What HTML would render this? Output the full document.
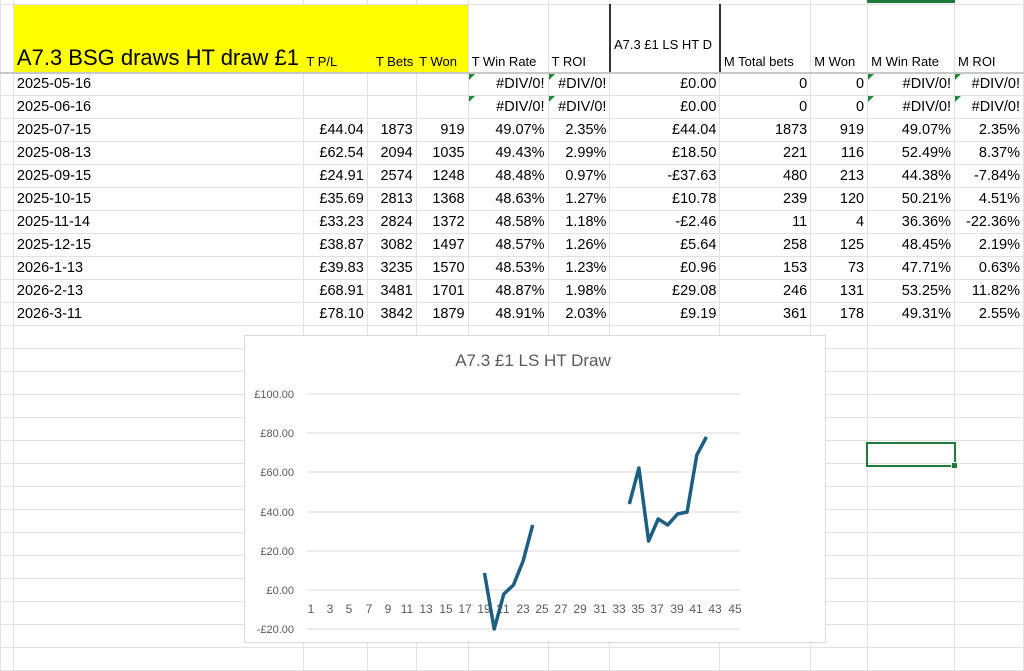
<!DOCTYPE html>
<html><head><meta charset="utf-8"><style>
body{margin:0;width:1024px;height:646px;overflow:hidden;background:#fff;font-family:"Liberation Sans",sans-serif;position:relative}
table{position:absolute;left:0;top:-19px;border-collapse:collapse;table-layout:fixed}
td{border:1px solid #e1e1e1;height:23px;padding:0 3px;font-size:14.5px;white-space:nowrap;overflow:hidden;text-align:right;color:#000;position:relative;box-sizing:border-box}
tr.h td{height:68px;vertical-align:bottom;font-size:13px;text-align:left;padding-bottom:3px;border-bottom:2px solid #c8c8c8}
td.l{text-align:left}
.g:before{content:"";position:absolute;left:0;top:0;border-top:6px solid #1f8a3a;border-right:6px solid transparent}
#chart{position:absolute;left:244px;top:335px;width:580px;height:306px;background:#fff;border:1px solid #d9d9d9}
</style></head><body>
<table>
<colgroup><col style="width:13px"><col style="width:290px"><col style="width:64px"><col style="width:49px"><col style="width:52px"><col style="width:80px"><col style="width:62px"><col style="width:110px"><col style="width:91px"><col style="width:57px"><col style="width:87px"><col style="width:69px"></colgroup>
<tr><td></td><td></td><td></td><td></td><td></td><td></td><td></td><td></td><td></td><td></td><td></td><td></td></tr>
<tr class="h"><td></td><td style="background:#ff0;font-size:22px;padding-bottom:1px;border-right:none">A7.3 BSG draws HT draw £1</td><td style="background:#ff0;border-left:none;border-right:none">T P/L</td><td style="background:#ff0;text-align:right;border-left:none;border-right:none">T Bets</td><td style="background:#ff0;border-left:none">T Won</td><td>T Win Rate</td><td>T ROI</td><td style="vertical-align:top;padding-top:32px;border-left:2px solid #333;border-right:2px solid #333">A7.3 £1 LS HT D</td><td>M Total bets</td><td>M Won</td><td>M Win Rate</td><td>M ROI</td></tr>
<tr><td></td><td class="l">2025-05-16</td><td></td><td></td><td></td><td class="g">#DIV/0!</td><td class="g">#DIV/0!</td><td>£0.00</td><td>0</td><td>0</td><td class="g">#DIV/0!</td><td class="g">#DIV/0!</td></tr>
<tr><td></td><td class="l">2025-06-16</td><td></td><td></td><td></td><td class="g">#DIV/0!</td><td class="g">#DIV/0!</td><td>£0.00</td><td>0</td><td>0</td><td class="g">#DIV/0!</td><td class="g">#DIV/0!</td></tr>
<tr><td></td><td class="l">2025-07-15</td><td>£44.04</td><td>1873</td><td>919</td><td>49.07%</td><td>2.35%</td><td>£44.04</td><td>1873</td><td>919</td><td>49.07%</td><td>2.35%</td></tr>
<tr><td></td><td class="l">2025-08-13</td><td>£62.54</td><td>2094</td><td>1035</td><td>49.43%</td><td>2.99%</td><td>£18.50</td><td>221</td><td>116</td><td>52.49%</td><td>8.37%</td></tr>
<tr><td></td><td class="l">2025-09-15</td><td>£24.91</td><td>2574</td><td>1248</td><td>48.48%</td><td>0.97%</td><td>-£37.63</td><td>480</td><td>213</td><td>44.38%</td><td>-7.84%</td></tr>
<tr><td></td><td class="l">2025-10-15</td><td>£35.69</td><td>2813</td><td>1368</td><td>48.63%</td><td>1.27%</td><td>£10.78</td><td>239</td><td>120</td><td>50.21%</td><td>4.51%</td></tr>
<tr><td></td><td class="l">2025-11-14</td><td>£33.23</td><td>2824</td><td>1372</td><td>48.58%</td><td>1.18%</td><td>-£2.46</td><td>11</td><td>4</td><td>36.36%</td><td>-22.36%</td></tr>
<tr><td></td><td class="l">2025-12-15</td><td>£38.87</td><td>3082</td><td>1497</td><td>48.57%</td><td>1.26%</td><td>£5.64</td><td>258</td><td>125</td><td>48.45%</td><td>2.19%</td></tr>
<tr><td></td><td class="l">2026-1-13</td><td>£39.83</td><td>3235</td><td>1570</td><td>48.53%</td><td>1.23%</td><td>£0.96</td><td>153</td><td>73</td><td>47.71%</td><td>0.63%</td></tr>
<tr><td></td><td class="l">2026-2-13</td><td>£68.91</td><td>3481</td><td>1701</td><td>48.87%</td><td>1.98%</td><td>£29.08</td><td>246</td><td>131</td><td>53.25%</td><td>11.82%</td></tr>
<tr><td></td><td class="l">2026-3-11</td><td>£78.10</td><td>3842</td><td>1879</td><td>48.91%</td><td>2.03%</td><td>£9.19</td><td>361</td><td>178</td><td>49.31%</td><td>2.55%</td></tr>
<tr><td></td><td></td><td></td><td></td><td></td><td></td><td></td><td></td><td></td><td></td><td></td><td></td></tr>
<tr><td></td><td></td><td></td><td></td><td></td><td></td><td></td><td></td><td></td><td></td><td></td><td></td></tr>
<tr><td></td><td></td><td></td><td></td><td></td><td></td><td></td><td></td><td></td><td></td><td></td><td></td></tr>
<tr><td></td><td></td><td></td><td></td><td></td><td></td><td></td><td></td><td></td><td></td><td></td><td></td></tr>
<tr><td></td><td></td><td></td><td></td><td></td><td></td><td></td><td></td><td></td><td></td><td></td><td></td></tr>
<tr><td></td><td></td><td></td><td></td><td></td><td></td><td></td><td></td><td></td><td></td><td></td><td></td></tr>
<tr><td></td><td></td><td></td><td></td><td></td><td></td><td></td><td></td><td></td><td></td><td></td><td></td></tr>
<tr><td></td><td></td><td></td><td></td><td></td><td></td><td></td><td></td><td></td><td></td><td></td><td></td></tr>
<tr><td></td><td></td><td></td><td></td><td></td><td></td><td></td><td></td><td></td><td></td><td></td><td></td></tr>
<tr><td></td><td></td><td></td><td></td><td></td><td></td><td></td><td></td><td></td><td></td><td></td><td></td></tr>
<tr><td></td><td></td><td></td><td></td><td></td><td></td><td></td><td></td><td></td><td></td><td></td><td></td></tr>
<tr><td></td><td></td><td></td><td></td><td></td><td></td><td></td><td></td><td></td><td></td><td></td><td></td></tr>
<tr><td></td><td></td><td></td><td></td><td></td><td></td><td></td><td></td><td></td><td></td><td></td><td></td></tr>
<tr><td></td><td></td><td></td><td></td><td></td><td></td><td></td><td></td><td></td><td></td><td></td><td></td></tr>
<tr><td></td><td></td><td></td><td></td><td></td><td></td><td></td><td></td><td></td><td></td><td></td><td></td></tr>
</table>
<div style="position:absolute;left:866px;top:442px;width:86px;height:21px;border:2px solid #1f7a3a"></div>
<div style="position:absolute;left:951px;top:462px;width:5px;height:5px;background:#1f7a3a;border:1px solid #fff"></div>
<div style="position:absolute;left:867px;top:0;width:88px;height:3px;background:#1f7a3a"></div>
<div id="chart"></div>
<svg style="position:absolute;left:0;top:0" width="1024" height="646" font-family="Liberation Sans, sans-serif">
<text x="533" y="366" font-size="17" fill="#595959" text-anchor="middle">A7.3 £1 LS HT Draw</text>
<g stroke="#d9d9d9" stroke-width="1">
<line x1="307" x2="740" y1="394" y2="394"/><line x1="307" x2="740" y1="433" y2="433"/><line x1="307" x2="740" y1="472" y2="472"/><line x1="307" x2="740" y1="512" y2="512"/><line x1="307" x2="740" y1="551" y2="551"/><line x1="307" x2="740" y1="590" y2="590"/><line x1="307" x2="740" y1="629" y2="629"/>
</g>
<g font-size="11" fill="#595959" text-anchor="end">
<text x="294" y="398">£100.00</text><text x="294" y="437">£80.00</text><text x="294" y="476">£60.00</text><text x="294" y="516">£40.00</text><text x="294" y="555">£20.00</text><text x="294" y="594">£0.00</text><text x="294" y="633">-£20.00</text>
</g>
<g font-size="12" fill="#595959" text-anchor="middle">
<text x="311" y="613">1</text><text x="330" y="613">3</text><text x="349" y="613">5</text><text x="369" y="613">7</text><text x="388" y="613">9</text><text x="407" y="613">11</text><text x="426" y="613">13</text><text x="446" y="613">15</text><text x="465" y="613">17</text><text x="484" y="613">19</text><text x="503" y="613">21</text><text x="523" y="613">23</text><text x="542" y="613">25</text><text x="561" y="613">27</text><text x="580" y="613">29</text><text x="600" y="613">31</text><text x="619" y="613">33</text><text x="638" y="613">35</text><text x="657" y="613">37</text><text x="677" y="613">39</text><text x="696" y="613">41</text><text x="715" y="613">43</text><text x="735" y="613">45</text>
</g>
<g fill="none" stroke="#1d5f80" stroke-width="3.5" stroke-linejoin="round">
<polyline points="484.5,573 494.2,629 503.8,594 513.5,585 523.1,561 532.7,525"/>
<polyline points="629.3,504 638.9,468 648.6,541 658.2,519 667.8,525 677.5,514 687.1,512 696.8,455 706.4,437"/>
</g>
</svg>
</body></html>
